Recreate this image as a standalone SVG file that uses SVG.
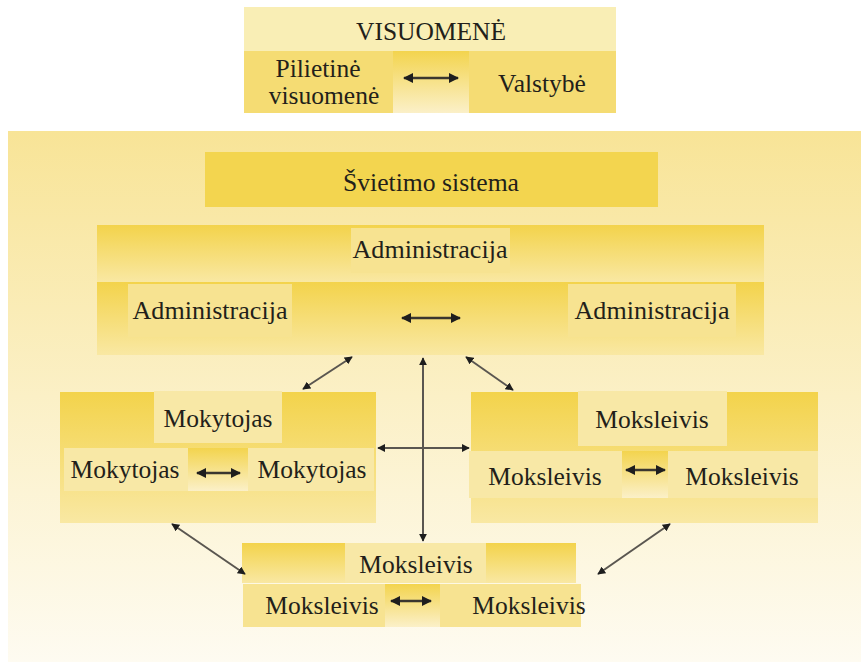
<svg xmlns="http://www.w3.org/2000/svg" width="861" height="662" viewBox="0 0 861 662">
<defs>
<linearGradient id="bg" x1="0" y1="0" x2="0" y2="1">
<stop offset="0" stop-color="#f8e497"/>
<stop offset="0.5" stop-color="#fbf0c6"/>
<stop offset="1" stop-color="#fefbf1"/>
</linearGradient>
<linearGradient id="band" x1="0" y1="0" x2="0" y2="1">
<stop offset="0" stop-color="#f3d34b"/>
<stop offset="1" stop-color="#f9e8a3"/>
</linearGradient>
<linearGradient id="mid" x1="0" y1="0" x2="0" y2="1">
<stop offset="0" stop-color="#f3d44e"/>
<stop offset="1" stop-color="#fbf0c8"/>
</linearGradient>
<marker id="ah" viewBox="0 0 10 10" refX="9" refY="5" markerWidth="4" markerHeight="4" orient="auto-start-reverse" markerUnits="strokeWidth">
<path d="M0,0 L10,5 L0,10 z" fill="#1e1e1e"/>
</marker>
</defs>
<style>
text{font-family:"Liberation Serif","Times New Roman",serif;font-size:25.5px;fill:#231f1a;text-anchor:middle}
.lbl{fill:#f7e391}
.lbl2{fill:#f8e8a6}
.strip{fill:#f9eeb5}
.solid{fill:#f5dc73}
.con line{stroke:#5a5650;stroke-width:2;marker-start:url(#ah);marker-end:url(#ah)}
.small line{stroke:#3a362f;stroke-width:2.5}
</style>
<rect width="861" height="662" fill="#ffffff"/>
<!-- VISUOMENĖ -->
<g id="visuomene">
<rect x="244" y="7" width="372" height="44" class="strip"/>
<text x="431" y="40" textLength="150" lengthAdjust="spacingAndGlyphs">VISUOMENĖ</text>
<rect x="244" y="51" width="149" height="62" class="solid"/>
<rect x="393" y="51" width="76" height="62" fill="url(#mid)"/>
<rect x="469" y="51" width="147" height="62" class="solid"/>
<text x="318" y="77">Pilietinė</text>
<text x="324" y="104">visuomenė</text>
<text x="542" y="92">Valstybė</text>
<g class="con small"><line x1="404" y1="78" x2="458" y2="78"/></g>
</g>
<!-- background -->
<rect x="8" y="131" width="853" height="531" fill="url(#bg)"/>
<g id="svietimo">
<rect x="205" y="152" width="453" height="55" fill="#f3d54f"/>
<text x="431" y="191" textLength="176" lengthAdjust="spacingAndGlyphs">Švietimo sistema</text>
</g>
<g id="administracija">
<rect x="97" y="225" width="667" height="57" fill="url(#band)"/>
<rect x="97" y="282" width="667" height="73" fill="url(#band)"/>
<rect x="351" y="228" width="159" height="45" class="lbl"/>
<text x="430" y="258" textLength="155" lengthAdjust="spacingAndGlyphs">Administracija</text>
<rect x="128" y="284" width="164" height="53" class="lbl"/>
<text x="210" y="319" textLength="155" lengthAdjust="spacingAndGlyphs">Administracija</text>
<rect x="568" y="284" width="168" height="53" class="lbl"/>
<text x="652" y="319" textLength="155" lengthAdjust="spacingAndGlyphs">Administracija</text>
<g class="con small"><line x1="402" y1="318" x2="460" y2="318"/></g>
</g>
<g id="mokytojas">
<rect x="60" y="392" width="316" height="131" fill="url(#band)"/>
<rect x="154" y="391" width="128" height="52" class="lbl2"/>
<text x="218" y="427">Mokytojas</text>
<rect x="64" y="448" width="124" height="43" class="lbl2"/>
<rect x="188" y="448" width="60" height="43" fill="url(#mid)"/>
<rect x="248" y="448" width="126" height="43" class="lbl2"/>
<text x="125" y="478">Mokytojas</text>
<text x="312" y="478">Mokytojas</text>
<g class="con small"><line x1="197" y1="473" x2="240" y2="473"/></g>
</g>
<g id="moksleivis-r">
<rect x="471" y="392" width="347" height="131" fill="url(#band)"/>
<rect x="578" y="391" width="149" height="55" class="lbl2"/>
<text x="652" y="428">Moksleivis</text>
<rect x="469" y="451" width="153" height="47" class="lbl2"/>
<rect x="622" y="451" width="46" height="47" fill="url(#mid)"/>
<rect x="668" y="451" width="150" height="47" class="lbl2"/>
<text x="545" y="485">Moksleivis</text>
<text x="742" y="485">Moksleivis</text>
<g class="con small"><line x1="626" y1="470" x2="665" y2="470"/></g>
</g>
<g id="moksleivis-b">
<rect x="242" y="543" width="334" height="40" fill="url(#band)"/>
<rect x="345" y="543" width="141" height="40" class="lbl2"/>
<text x="416" y="573">Moksleivis</text>
<rect x="243" y="584" width="142" height="43" class="lbl"/>
<rect x="385" y="584" width="55" height="43" fill="url(#mid)"/>
<rect x="440" y="584" width="141" height="43" class="lbl"/>
<text x="322" y="614">Moksleivis</text>
<text x="529" y="614">Moksleivis</text>
<g class="con small"><line x1="391" y1="601" x2="431" y2="601"/></g>
</g>
<g id="connectors" class="con">
<line x1="352" y1="357" x2="303" y2="389"/>
<line x1="466" y1="357" x2="513" y2="390"/>
<line x1="423" y1="358" x2="423" y2="541"/>
<line x1="378" y1="448" x2="469" y2="448"/>
<line x1="172" y1="524" x2="245" y2="574"/>
<line x1="670" y1="524" x2="598" y2="574"/>
</g>
</svg>
